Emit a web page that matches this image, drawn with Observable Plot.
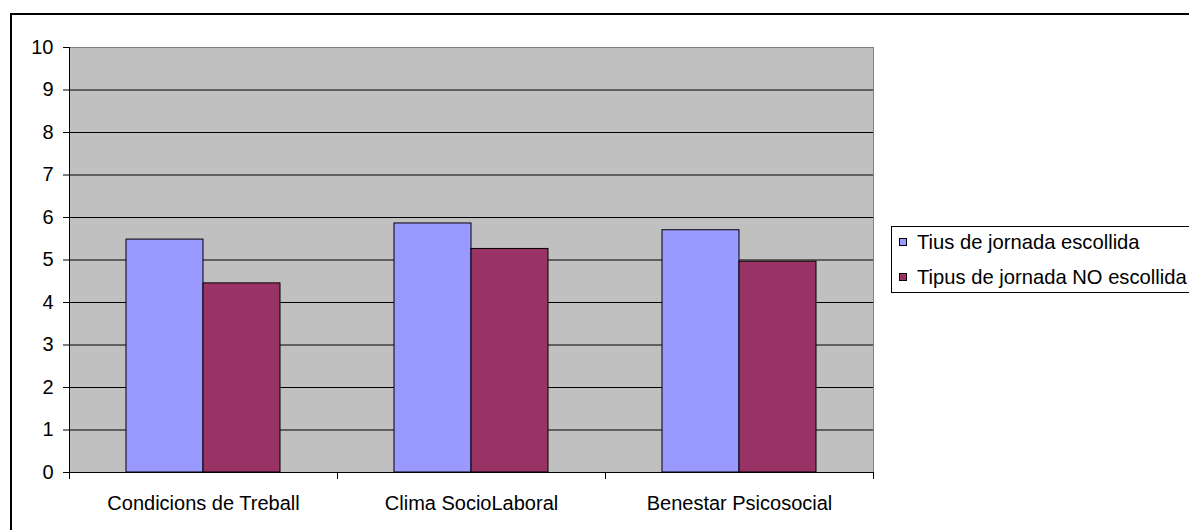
<!DOCTYPE html>
<html>
<head>
<meta charset="utf-8">
<script src="https://cdn.jsdelivr.net/npm/d3@7"></script>
<script src="https://cdn.jsdelivr.net/npm/@observablehq/plot@0.6"></script>
<style>
  html, body { margin: 0; padding: 0; background: #fff; }
  #chart { position: relative; width: 1189px; height: 530px; overflow: hidden; font-family: "Liberation Sans", Arial, sans-serif; color: #000; }
  #border { position: absolute; left: 10px; top: 13px; width: 1300px; height: 600px; border: 2px solid #000; }
  #plot { position: absolute; left: 0; top: 0; }
  #legend { position: absolute; left: 891px; top: 226px; width: 400px; height: 65px; border: 1px solid #000; background: #fff; }
  .item { position: absolute; left: 7px; height: 20px; line-height: 20px; font-size: 20.2px; white-space: nowrap; }
  .sw { position: absolute; left: 0; top: 6px; width: 8px; height: 8px; border: 1px solid #000; box-sizing: border-box; }
  .lbl { position: absolute; left: 18px; top: 0; }
</style>
</head>
<body>
<div id="chart">
  <div id="border"></div>
  <div id="plot"></div>
  <div id="legend"></div>
</div>
<script>
// Categories, series and values
const categories = ["Condicions de Treball", "Clima SocioLaboral", "Benestar Psicosocial"];
const series = ["Tius de jornada escollida", "Tipus de jornada NO escollida"];
const chosen = [5.48, 5.86, 5.70];
const notChosen = [4.45, 5.26, 4.96];
const colors = ["#9999FF", "#993366"];
const yTicks = [0, 1, 2, 3, 4, 5, 6, 7, 8, 9, 10];

const rows = categories.flatMap((c, i) => [
  {category: c, series: series[0], value: chosen[i]},
  {category: c, series: series[1], value: notChosen[i]}
]);

const W = 880, H = 530, mL = 68, mT = 47, mR = 7, mB = 58;
const innerH = H - mT - mB;

const chart = Plot.plot({
  width: W,
  height: H,
  marginLeft: mL,
  marginTop: mT,
  marginRight: mR,
  marginBottom: mB,
  style: {fontFamily: "Liberation Sans, Arial, sans-serif", fontSize: "20px", color: "#000", background: "transparent", overflow: "visible"},
  fx: {domain: categories, padding: 0, axis: "bottom", label: null, tickSize: 0, tickPadding: 23},
  x: {domain: series, paddingInner: 0, paddingOuter: 0.74, axis: null},
  y: {domain: [0, 10], ticks: yTicks, tickSize: 6, tickPadding: 10, label: null},
  color: {domain: series, range: colors},
  marks: [
    // plot area background and border
    Plot.frame({facet: "super", fill: "#C0C0C0", stroke: "#808080"}),
    // horizontal gridlines (repeated in each category panel)
    Plot.ruleY(yTicks.filter(t => t > 0 && t < 10), {stroke: "#000"}),
    // grouped bars
    Plot.barY(rows, {fx: "category", x: "series", y: "value", fill: "series", stroke: "#000", strokeWidth: 1}),
    // axis lines
    Plot.ruleY([0], {stroke: "#000"}),
    Plot.frame({facet: "super", anchor: "left", stroke: "#000"}),
    // category boundary ticks
    Plot.frame({anchor: "left", stroke: "#000", insetTop: innerH, insetBottom: -6}),
    Plot.frame({facet: "super", anchor: "right", stroke: "#000", insetTop: innerH, insetBottom: -6})
  ]
});
document.getElementById("plot").appendChild(chart);

// Legend
const legend = document.getElementById("legend");
series.forEach((s, i) => {
  const item = document.createElement("div");
  item.className = "item";
  item.style.top = (5 + i * 35) + "px";
  const sw = document.createElement("div");
  sw.className = "sw";
  sw.style.background = colors[i];
  const lbl = document.createElement("span");
  lbl.className = "lbl";
  lbl.textContent = s;
  item.appendChild(sw);
  item.appendChild(lbl);
  legend.appendChild(item);
});
</script>
</body>
</html>
